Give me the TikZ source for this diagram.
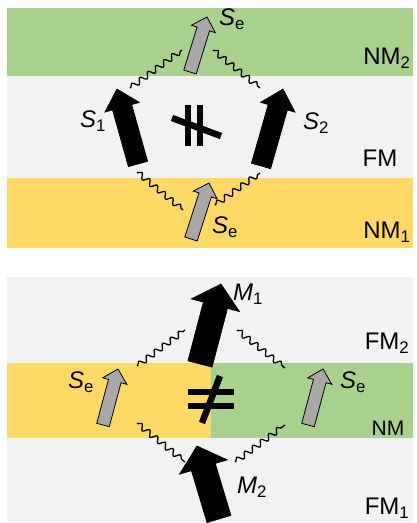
\documentclass[tikz,border=0pt]{standalone}
\usepackage{fontspec}
\setmainfont{Liberation Sans}
\usetikzlibrary{calc,decorations.pathmorphing}
\definecolor{nmgreen}{HTML}{A9D18E}
\definecolor{nmyellow}{HTML}{FFD966}
\definecolor{fmgray}{HTML}{F2F2F2}
\definecolor{spingray}{HTML}{A8A8A8}
\tikzset{
  layer/.style={font=\fontsize{24}{28}\selectfont},
  spinlbl/.style={font=\fontsize{24}{28}\selectfont},
  wave/.style={line width=1.3pt,decorate,decoration={snake,amplitude=2.8pt,segment length=10pt,pre length=1pt,post length=1pt}},
  magarrow/.style={fill=black,draw=black,line width=0.6pt,line join=miter},
  elarrow/.style={fill=spingray,draw=black,line width=0.8pt,line join=miter},
  neq/.style={line width=6.5pt}
}
\newcommand\fatarrow[6]{%
  \path ($(#3)!#6!(#2)$) coordinate (hb);
  \draw[#1] ($(#2)!#4!90:(#3)$) -- ($(hb)!#4!90:(#3)$) -- ($(hb)!#5!90:(#3)$) -- (#3)
    -- ($(hb)!#5!-90:(#3)$) -- ($(hb)!#4!-90:(#3)$) -- ($(#2)!#4!-90:(#3)$) -- cycle;
}
\newcommand\spin[1]{\textit{S}\textsubscript{#1}}
\newcommand\magn[1]{\textit{M}\textsubscript{#1}}
\begin{document}
\begin{tikzpicture}[x=1pt,y=-1pt]
\useasboundingbox (0,0) rectangle (417,523);
\fill[nmgreen] (7,8) rectangle (413,76);
\fill[fmgray] (7,76) rectangle (413,178);
\fill[nmyellow] (7,178) rectangle (413,248);
\fill[fmgray] (7,277) rectangle (413,522);
\fill[nmyellow] (7,363) rectangle (211,438);
\fill[nmgreen] (211,363) rectangle (413,438);

\coordinate (w1a) at (130,88); \coordinate (w1b) at (182,50);
\coordinate (w2a) at (213,50); \coordinate (w2b) at (260,88);
\coordinate (w3a) at (137,172); \coordinate (w3b) at (183,210);
\coordinate (w4a) at (215,205); \coordinate (w4b) at (260,173);
\foreach \a/\b in {w1a/w1b,w2a/w2b,w3a/w3b,w4a/w4b}
  \draw[wave] (\a) -- (\b);

\coordinate (set) at (190,72); \coordinate (seh) at (207,17);
\coordinate (sbt) at (191,239); \coordinate (sbh) at (209,183);
\coordinate (s1t) at (138,164); \coordinate (s1h) at (117,89);
\coordinate (s2t) at (261,166); \coordinate (s2h) at (283,89);
\fatarrow{elarrow}{set}{seh}{6.5pt}{12.5pt}{12.5pt}
\fatarrow{elarrow}{sbt}{sbh}{6.5pt}{12.5pt}{12.5pt}
\fatarrow{magarrow}{s1t}{s1h}{10pt}{18pt}{19pt}
\fatarrow{magarrow}{s2t}{s2h}{10pt}{18pt}{19pt}

\draw[neq] (188,105) -- (188,146);
\draw[neq] (200,105) -- (200,146);
\draw[neq] (172,118) -- (221,136);

\node[spinlbl] (lse1) at (232,19) {\spin{e}};
\node[spinlbl] (ls1) at (93,121) {\spin{1}};
\node[spinlbl] (ls2) at (316,123) {\spin{2}};
\node[spinlbl] (lse2) at (225,227) {\spin{e}};
\node[layer] (lnm2) at (387,58) {NM\textsubscript{2}};
\node[layer] (lfm) at (380,158) {FM};
\node[layer] (lnm1) at (387,232) {NM\textsubscript{1}};

\coordinate (v1a) at (137,366); \coordinate (v1b) at (185,330);
\coordinate (v2a) at (237,330); \coordinate (v2b) at (285,368);
\coordinate (v3a) at (137,423); \coordinate (v3b) at (185,462);
\coordinate (v4a) at (235,462); \coordinate (v4b) at (285,425);
\foreach \a/\b in {v1a/v1b,v2a/v2b,v3a/v3b,v4a/v4b}
  \draw[wave] (\a) -- (\b);

\coordinate (m1t) at (200,364); \coordinate (m1h) at (221,284);
\coordinate (m2t) at (219,519); \coordinate (m2h) at (197,446);
\coordinate (selt) at (103,425); \coordinate (selh) at (118,369);
\coordinate (sert) at (308,425); \coordinate (serh) at (323,369);
\fatarrow{magarrow}{m1t}{m1h}{12.5pt}{25pt}{22pt}
\fatarrow{magarrow}{m2t}{m2h}{12.5pt}{25pt}{22pt}
\fatarrow{elarrow}{selt}{selh}{6.5pt}{12.5pt}{12.5pt}
\fatarrow{elarrow}{sert}{serh}{6.5pt}{12.5pt}{12.5pt}

\draw[neq] (188,392) -- (234,392);
\draw[neq] (188,406) -- (234,406);
\draw[neq] (220,376) -- (202,423);

\node[spinlbl] (lm1) at (248,294) {\magn{1}};
\node[spinlbl] (lm2) at (252,487) {\magn{2}};
\node[spinlbl] (lsel) at (81,382) {\spin{e}};
\node[spinlbl] (lser) at (353,382) {\spin{e}};
\node[layer] (lfm2) at (387,343) {FM\textsubscript{2}};
\node[layer,font=\fontsize{21}{24}\selectfont] (lnm) at (388,428) {NM};
\node[layer] (lfm1) at (387,508) {FM\textsubscript{1}};
\end{tikzpicture}
\end{document}
